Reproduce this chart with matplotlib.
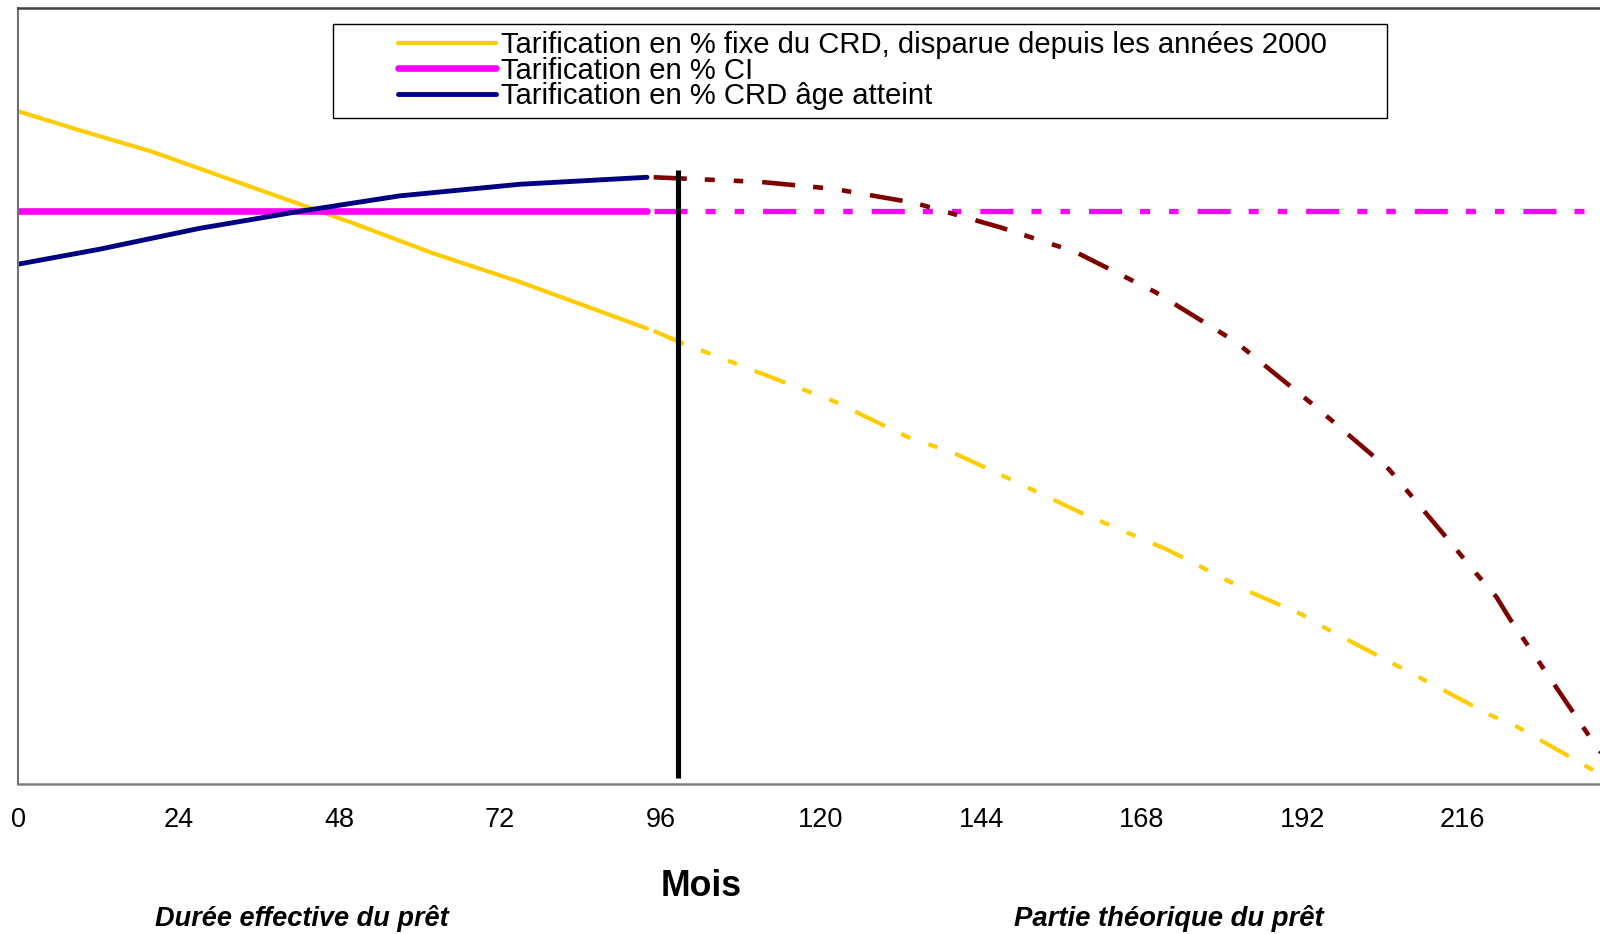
import numpy as np
import matplotlib.pyplot as plt
from matplotlib.patches import Rectangle

plt.rcParams['font.family'] = ['Liberation Sans', 'DejaVu Sans']
plt.rcParams['lines.scale_dashes'] = False

# Values (arbitrary y scale, 0 = axis, 100 = top of plot)
# yellow: % fixe du CRD
yellow_months_real = [0, 9, 20, 35, 50, 62, 75, 94]
yellow_real = [86.7, 84.3, 81.5, 76.9, 72.3, 68.4, 64.7, 58.7]
yellow_months_theo = [95, 99, 109, 122, 133, 140, 147, 159, 172, 184, 192, 196, 208, 220, 224, 236, 240]
yellow_theo = [58.4, 56.9, 53.6, 49.3, 44.7, 42.6, 39.8, 34.9, 30.1, 24.8, 21.8, 19.8, 14.4, 8.9, 7.4, 1.5, 0.0]

# magenta: % CI (flat)
ci_months_real = [0, 94]
ci_real = [73.9, 73.9]
ci_months_theo = [95, 240]
ci_theo = [73.9, 73.9]

# navy then dark red: % CRD age atteint
age_months_real = [0, 12, 27, 42, 57, 75, 94]
age_real = [67.0, 68.9, 71.6, 73.8, 75.8, 77.3, 78.2]
age_months_theo = [95, 111, 122, 134, 147, 158, 170, 182, 194, 205, 213, 218, 221, 223, 235, 240]
age_theo = [78.2, 77.6, 76.7, 74.9, 71.7, 68.6, 63.4, 57.0, 48.6, 40.5, 32.3, 27.1, 24.1, 21.3, 6.0, 0.0]

# separation between effective and theoretical duration
split_month = 98.7
split_low, split_high = 0.8, 79.1

labels = ["Tarification en % fixe du CRD, disparue depuis les années 2000",
          "Tarification en % CI",
          "Tarification en % CRD âge atteint"]
xticks = [0, 24, 48, 72, 96, 120, 144, 168, 192, 216]

yellow = '#FFCC00'
magenta = '#FF00FF'
navy = '#000080'
darkred = '#800000'
dash = (0, (23.8, 13, 7.2, 13.7, 6.8, 13.7))

fig = plt.figure(figsize=(16, 9.34), dpi=100)
ax = fig.add_axes([0.0115, 0.1609, 1.0031, 0.8303])

# theoretical part (dash dot dot)
ax.plot(yellow_months_theo, yellow_theo, color=yellow, lw=3.0, linestyle=dash)
ax.plot(ci_months_theo, ci_theo, color=magenta, lw=3.8, linestyle=dash)
ax.plot(age_months_theo, age_theo, color=darkred, lw=3.3, linestyle=dash)

# effective part (solid)
l1, = ax.plot(yellow_months_real, yellow_real, color=yellow, lw=3.0, solid_capstyle='round')
l2, = ax.plot(ci_months_real, ci_real, color=magenta, lw=4.8, solid_capstyle='round')
l3, = ax.plot(age_months_real, age_real, color=navy, lw=3.5, solid_capstyle='round')

ax.vlines(split_month, split_low, split_high, color='black', lw=3.7)

ax.set_xlim(0, 240)
ax.set_ylim(0, 100)
ax.set_xticks(xticks)
ax.set_xticklabels([str(t) for t in xticks])
ax.set_yticks([])
ax.tick_params(axis='x', length=0, pad=17, labelsize=19.5)

ax.spines['right'].set_visible(False)
ax.spines['left'].set_color('#707070')
ax.spines['bottom'].set_color('#808080')
ax.spines['left'].set_linewidth(1.5)
ax.spines['bottom'].set_linewidth(1.8)
ax.spines['top'].set_color('#404040')
ax.spines['top'].set_linewidth(1.8)

# legend box
fig.patches.append(Rectangle((333 / 1600, 1 - 118 / 934), 1054 / 1600, 94 / 934,
                             transform=fig.transFigure, facecolor='white',
                             edgecolor='black', lw=1.0, zorder=5))
leg = fig.legend([l1, l2, l3], labels, loc='upper left',
                 bbox_to_anchor=(398 / 1600, 1 - 31 / 934),
                 frameon=False, fontsize=21.1, borderpad=0, borderaxespad=0,
                 handlelength=3.35, handletextpad=0.17, labelspacing=-0.08)
leg.set_zorder(6)

fig.text(701.5 / 1600, 1 - 886 / 934, 'Mois', ha='center', va='center',
         fontsize=25.7, fontweight='bold')
fig.text(302 / 1600, 1 - 919 / 934, 'Durée effective du prêt', ha='center', va='center',
         fontsize=19.5, fontweight='bold', fontstyle='italic')
fig.text(1169 / 1600, 1 - 919 / 934, 'Partie théorique du prêt', ha='center', va='center',
         fontsize=19.8, fontweight='bold', fontstyle='italic')

fig.savefig('out.png', dpi=100)
